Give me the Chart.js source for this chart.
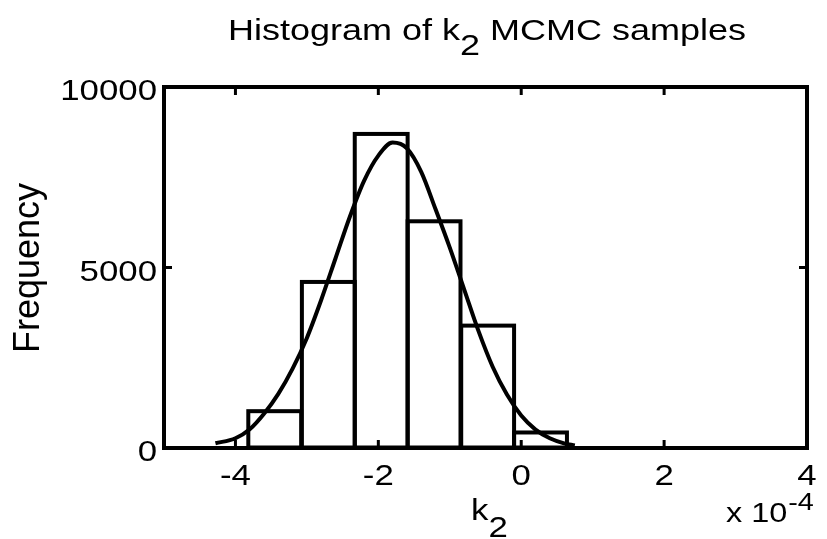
<!DOCTYPE html>
<html>
<head>
<meta charset="utf-8">
<script src="https://cdn.jsdelivr.net/npm/chart.js@4"></script>
<style>
  body { margin: 0; background: #fff; }
  #wrap { width: 827px; height: 539px; }
</style>
</head>
<body>
<div id="wrap"><canvas id="myChart"></canvas></div>
<script>
// histogramme (centres des classes, x 1e-4) et effectifs
const binCenters = [-3.45, -2.70, -1.96, -1.22, -0.47, 0.27];
const binCounts = [1020, 4600, 8700, 6280, 3390, 430];

// courbe normale
const curveX = [-4.28, -4.0, -3.8, -3.6, -3.4, -3.2, -3.0, -2.8, -2.6, -2.4, -2.2, -2.0, -1.8, -1.6, -1.4, -1.2, -1.0, -0.8, -0.6, -0.4, -0.2, 0.0, 0.2, 0.4, 0.6, 0.75];
const curveY = [130, 270, 520, 950, 1500, 2200, 3050, 4100, 5250, 6400, 7400, 8100, 8460, 8300, 7650, 6620, 5550, 4400, 3250, 2250, 1480, 900, 510, 270, 130, 70];

const xTicks = [-4, -2, 0, 2, 4];
const yTicks = [0, 5000, 10000];

const FONT = '"Liberation Sans", Arial, sans-serif';
const SX = 1.2; // le texte horizontal de l'original est plus large

function drawText(ctx, str, x, y, size, align) {
  ctx.save();
  ctx.font = size + 'px ' + FONT;
  const w = ctx.measureText(str).width * SX;
  let x0 = x;
  if (align === 'center') x0 = x - w / 2;
  if (align === 'right') x0 = x - w;
  ctx.translate(x0, y);
  ctx.scale(SX, 1);
  ctx.textAlign = 'left';
  ctx.textBaseline = 'alphabetic';
  ctx.fillStyle = '#000';
  ctx.fillText(str, 0, 0);
  ctx.restore();
  return x0 + w;
}

// contours des barres, cadre, graduations et textes
const matlabLook = {
  id: 'matlabLook',
  afterDatasetsDraw(chart) {
    const ctx = chart.ctx;
    const meta = chart.getDatasetMeta(0);
    ctx.save();
    ctx.strokeStyle = '#000';
    ctx.lineWidth = 4;
    meta.data.forEach(bar => {
      const p = bar.getProps(['x', 'y', 'width', 'base'], true);
      ctx.strokeRect(p.x - p.width / 2, p.y, p.width, p.base - p.y);
    });
    ctx.restore();
  },
  afterDraw(chart) {
    const ctx = chart.ctx;
    const a = chart.chartArea;
    const xs = chart.scales.x, ys = chart.scales.y;
    ctx.save();
    ctx.strokeStyle = '#000';
    ctx.lineWidth = 4;
    ctx.strokeRect(a.left, a.top, a.right - a.left, a.bottom - a.top);
    ctx.lineWidth = 3;
    ctx.beginPath();
    xs.ticks.forEach(t => {
      const px = xs.getPixelForValue(t.value);
      ctx.moveTo(px, a.bottom); ctx.lineTo(px, a.bottom - 8);
      ctx.moveTo(px, a.top); ctx.lineTo(px, a.top + 8);
    });
    ys.ticks.forEach(t => {
      const py = ys.getPixelForValue(t.value);
      ctx.moveTo(a.left, py); ctx.lineTo(a.left + 8, py);
      ctx.moveTo(a.right, py); ctx.lineTo(a.right - 8, py);
    });
    ctx.stroke();
    ctx.restore();

    // étiquettes des graduations
    xs.ticks.forEach(t => {
      drawText(ctx, String(t.value), xs.getPixelForValue(t.value), a.bottom + 37, 29, 'center');
    });
    ys.ticks.forEach(t => {
      drawText(ctx, String(t.value), a.left - 7, ys.getPixelForValue(t.value) + 13, 29, 'right');
    });

    // titre
    let cx = drawText(ctx, 'Histogram of k', 228, 40, 30, 'left');
    cx = drawText(ctx, '2', cx, 55, 30, 'left');
    drawText(ctx, ' MCMC samples', cx, 40, 30, 'left');

    // label x
    cx = drawText(ctx, 'k', 471, 520, 29, 'left');
    drawText(ctx, '2', cx, 537, 29, 'left');

    // facteur d'échelle
    cx = drawText(ctx, 'x 10', 726, 522, 27, 'left');
    drawText(ctx, '-4', cx + 1, 510, 24, 'left');

    // label y
    ctx.save();
    ctx.translate(39, 268);
    ctx.rotate(-Math.PI / 2);
    ctx.font = '36px ' + FONT;
    ctx.textAlign = 'center';
    ctx.textBaseline = 'alphabetic';
    ctx.fillStyle = '#000';
    ctx.fillText('Frequency', 0, 0);
    ctx.restore();
  }
};

const ctx = document.getElementById('myChart').getContext('2d');
const config = {
  data: {
    datasets: [
      {
        type: 'bar',
        order: 1,
        data: binCenters.map((c, i) => ({ x: c, y: binCounts[i] })),
        backgroundColor: '#fff',
        borderWidth: 0,
        barPercentage: 1,
        categoryPercentage: 1
      },
      {
        type: 'line',
        order: 0,
        data: curveX.map((c, i) => ({ x: c, y: curveY[i] })),
        borderColor: '#000',
        borderWidth: 4,
        pointRadius: 0,
        fill: false,
        cubicInterpolationMode: 'monotone'
      }
    ]
  },
  options: {
    responsive: true,
    maintainAspectRatio: false,
    animation: false,
    layout: { padding: { top: 87, right: 20, left: 0, bottom: 0 } },
    plugins: { legend: { display: false }, tooltip: { enabled: false } },
    scales: {
      x: {
        type: 'linear',
        min: -5,
        max: 4,
        offset: false,
        afterBuildTicks: s => { s.ticks = xTicks.map(v => ({ value: v })); },
        afterFit: s => { s.height = 91; },
        ticks: { display: false },
        grid: { drawOnChartArea: false, drawTicks: false },
        border: { display: false }
      },
      y: {
        type: 'linear',
        min: 0,
        max: 10000,
        afterBuildTicks: s => { s.ticks = yTicks.map(v => ({ value: v })); },
        afterFit: s => { s.width = 164; },
        ticks: { display: false },
        grid: { drawOnChartArea: false, drawTicks: false },
        border: { display: false }
      }
    }
  },
  plugins: [matlabLook]
};
const myChart = new Chart(ctx, config);
</script>
</body>
</html>
